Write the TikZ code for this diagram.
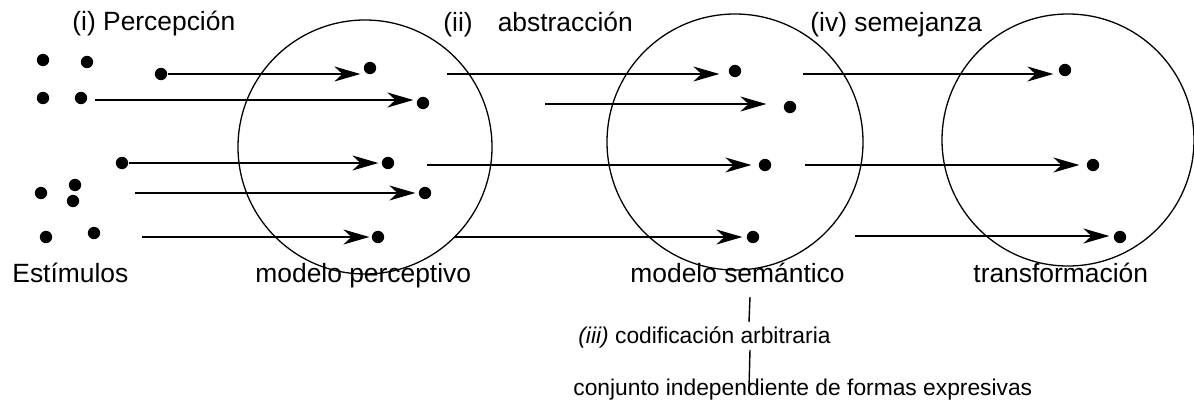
\documentclass[tikz,border=0pt]{standalone}
\usepackage{fontspec}
\setmainfont{Liberation Sans}
\usetikzlibrary{arrows.meta,positioning}

\begin{document}
\begin{tikzpicture}[x=0.5pt,y=-0.5pt,
  zone/.style={draw, circle, line width=0.65pt, inner sep=0pt},
  dot/.style={circle, fill=black, inner sep=0pt, minimum size=6.2pt},
  lbl/.style={anchor=base west, inner sep=0pt, font=\fontsize{13.2}{15}\selectfont},
  note/.style={anchor=base west, inner sep=0pt, font=\fontsize{11.4}{14}\selectfont},
  arr/.style={-{Stealth[length=13pt,width=7.5pt,inset=4pt]}, line width=0.7pt},
  tie/.style={line width=0.7pt}
]
  \useasboundingbox (0,0) rectangle (1194,407);

  % the three models
  \node[zone, minimum size=127pt] (zper) at (365,147) {};
  \node[zone, minimum size=128pt] (zsem) at (735,142) {};
  \node[zone, minimum size=126pt] (ztra) at (1068,140) {};

  % stimuli
  \node[dot] (s1) at (43,60) {};
  \node[dot] (s2) at (87,62) {};
  \node[dot] (s3) at (43,98) {};
  \node[dot] (s4) at (81,98) {};
  \node[dot] (s5) at (161,74) {};
  \node[dot] (s6) at (122,163) {};
  \node[dot] (s7) at (41,193) {};
  \node[dot] (s8) at (75,185) {};
  \node[dot] (s9) at (73,201) {};
  \node[dot] (s10) at (46,237) {};
  \node[dot] (s11) at (94,233) {};

  % perceptual model
  \node[dot] (p1) at (370,68) {};
  \node[dot] (p2) at (423,103) {};
  \node[dot] (p3) at (388,163) {};
  \node[dot] (p4) at (425,193) {};
  \node[dot] (p5) at (378,237) {};

  % semantic model
  \node[dot] (m1) at (735,71) {};
  \node[dot] (m2) at (790,107) {};
  \node[dot] (m3) at (765,165) {};
  \node[dot] (m4) at (753,237) {};

  % transformation
  \node[dot] (t1) at (1065,70) {};
  \node[dot] (t2) at (1093,165) {};
  \node[dot] (t3) at (1120,237) {};

  % free tails
  \coordinate (a2) at (95,100);
  \coordinate (a4) at (135,193);
  \coordinate (a5) at (142,237);
  \coordinate (b1) at (447,74);
  \coordinate (b2) at (545,104);
  \coordinate (b3) at (427,165);
  \coordinate (b4) at (455,237);
  \coordinate (c1) at (803,74);
  \coordinate (c2) at (805,165);
  \coordinate (c3) at (855,236);

  % (i) perception
  \draw[arr, shorten >=1.5pt] (s5) -- (s5 -| p1.west);
  \draw[arr, shorten >=1.5pt] (a2) -- (a2 -| p2.west);
  \draw[arr, shorten >=1.5pt] (s6) -- (s6 -| p3.west);
  \draw[arr, shorten >=1.5pt] (a4) -- (a4 -| p4.west);
  \draw[arr, shorten >=1pt] (a5) -- (a5 -| p5.west);

  % (ii) abstraction
  \draw[arr, shorten >=4.5pt] (b1) -- (b1 -| m1.west);
  \draw[arr, shorten >=8.5pt] (b2) -- (b2 -| m2.west);
  \draw[arr, shorten >=3.5pt] (b3) -- (b3 -| m3.west);
  \draw[arr, shorten >=2pt] (b4) -- (b4 -| m4.west);

  % (iv) likeness
  \draw[arr, shorten >=2.5pt] (c1) -- (c1 -| t1.west);
  \draw[arr, shorten >=3.5pt] (c2) -- (c2 -| t2.west);
  \draw[arr, shorten >=2pt] (c3) -- (c3 -| t3.west);

  % labels
  \node[lbl] (tper) at (72,31) {(i) Percepción};
  \node[lbl] (tabs) at (443,32) {(ii)\hspace{0.95em}abstracción};
  \node[lbl] (tsem) at (810,32) {(iv) semejanza};
  \node[lbl] (lest) at (12,282) {Estímulos};
  \node[lbl] (lper) at (255,282) {modelo perceptivo};
  \node[lbl] (lsem) at (630,282) {modelo semántico};
  \node[lbl] (ltra) at (973,282) {transformación};
  \node[note] (cod) at (578,343) {\textit{(iii)} codificación arbitraria};
  \node[note] (con) at (573,395) {conjunto independiente de formas expresivas};

  % arbitrary coding
  \coordinate (k1) at (750,297);
  \coordinate (k2) at (749,322);
  \coordinate (k3) at (750,350);
  \coordinate (k4) at (749,388);
  \draw[tie] (k1) -- (k2);
  \draw[tie] (k3) -- (k4);
\end{tikzpicture}
\end{document}
